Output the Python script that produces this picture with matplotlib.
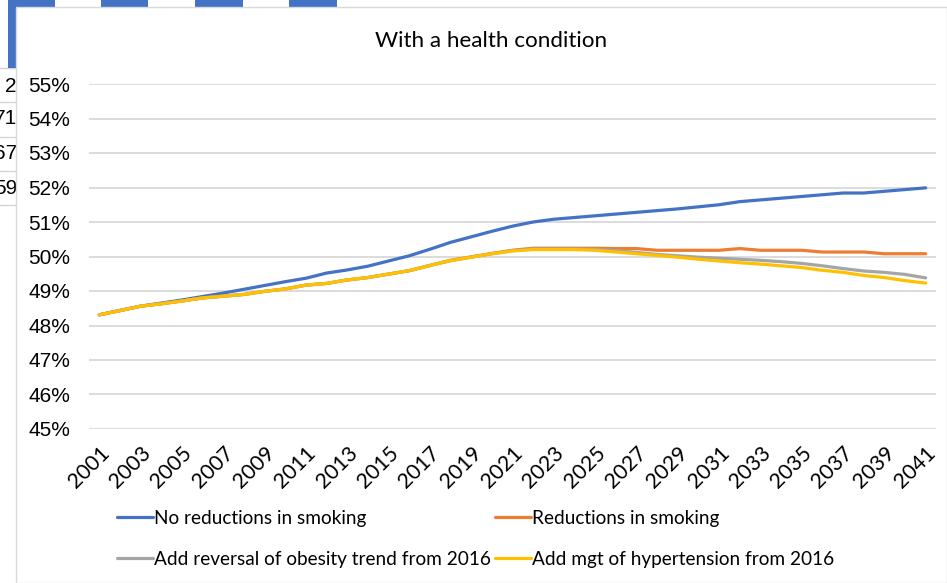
import matplotlib
matplotlib.use("Agg")
import matplotlib.pyplot as plt
from matplotlib.patches import Rectangle
from matplotlib.lines import Line2D
from matplotlib import font_manager

years = list(range(2001, 2042))

no_reductions = [48.31, 48.44, 48.56, 48.65, 48.74, 48.84, 48.94, 49.05, 49.16, 49.27,
                 49.37, 49.52, 49.61, 49.72, 49.87, 50.02, 50.21, 50.41, 50.57, 50.73,
                 50.88, 51.00, 51.08, 51.13, 51.18, 51.23, 51.28, 51.33, 51.38, 51.44,
                 51.50, 51.59, 51.64, 51.69, 51.74, 51.79, 51.84, 51.84, 51.89, 51.94, 51.99]

reductions = [48.31, 48.43, 48.56, 48.63, 48.71, 48.80, 48.85, 48.90, 48.99, 49.06,
              49.17, 49.22, 49.32, 49.39, 49.49, 49.59, 49.74, 49.89, 49.99, 50.09,
              50.18, 50.24, 50.24, 50.24, 50.24, 50.23, 50.23, 50.18, 50.18, 50.18,
              50.18, 50.23, 50.18, 50.18, 50.18, 50.13, 50.13, 50.13, 50.08, 50.08, 50.08]

obesity = [48.31, 48.43, 48.56, 48.63, 48.71, 48.80, 48.85, 48.90, 48.99, 49.06,
           49.17, 49.22, 49.32, 49.39, 49.49, 49.59, 49.74, 49.88, 49.98, 50.08,
           50.17, 50.22, 50.22, 50.22, 50.21, 50.17, 50.12, 50.06, 50.02, 49.98,
           49.95, 49.92, 49.89, 49.85, 49.80, 49.73, 49.65, 49.58, 49.54, 49.48, 49.38]

hypertension = [48.31, 48.43, 48.56, 48.63, 48.71, 48.80, 48.85, 48.90, 48.99, 49.06,
                49.17, 49.22, 49.32, 49.39, 49.49, 49.59, 49.74, 49.88, 49.98, 50.08,
                50.16, 50.20, 50.20, 50.20, 50.18, 50.13, 50.08, 50.03, 49.98, 49.92,
                49.87, 49.82, 49.78, 49.73, 49.68, 49.60, 49.54, 49.45, 49.39, 49.30, 49.23]

series_names = ["No reductions in smoking", "Reductions in smoking",
                "Add reversal of obesity trend from 2016", "Add mgt of hypertension from 2016"]
series_colors = ["#4472C4", "#ED7D31", "#A5A5A5", "#FFC000"]
y_ticks = [45, 46, 47, 48, 49, 50, 51, 52, 53, 54, 55]
x_tick_years = years[::2]
title = "With a health condition"
cell_texts = ["2", "71", "67", "59"]

available = {f.name for f in font_manager.fontManager.ttflist}
narrow = "Lato" if "Lato" in available else "DejaVu Sans"
arial = "Liberation Sans"

W, H = 947, 583
fig = plt.figure(figsize=(W / 100, H / 100), dpi=100)
fig.patch.set_facecolor("white")
renderer = fig.canvas.get_renderer()


def fx(x):
    return x / W


def fy(y):
    return 1 - y / H


def fit_size(s, family, target_px, base=14.0):
    t = fig.text(0, 0, s, family=family, fontsize=base)
    w = t.get_window_extent(renderer).width
    t.remove()
    return base * target_px / w


# background spreadsheet artifacts
for x0, x1 in [(8, 55), (101, 148), (195, 243), (289, 337)]:
    fig.patches.append(Rectangle((fx(x0), fy(7)), fx(x1) - fx(x0), fy(0) - fy(7),
                                 transform=fig.transFigure, facecolor="#4472C4",
                                 edgecolor="none", zorder=0))
fig.patches.append(Rectangle((fx(8), fy(68)), fx(16) - fx(8), fy(0) - fy(68),
                             transform=fig.transFigure, facecolor="#4472C4",
                             edgecolor="none", zorder=0))
for yy in [68, 102, 137, 171, 205]:
    fig.lines.append(Line2D([0, fx(16)], [fy(yy), fy(yy)], transform=fig.transFigure,
                            color="#D4D4D4", lw=1, zorder=0))
for yy, s in zip([86, 119, 154, 188], cell_texts):
    fig.text(fx(17), fy(yy), s, ha="right", va="center", fontsize=15,
             family=arial, color="black", zorder=0)

# chart area
fig.patches.append(Rectangle((fx(16), 0), 1 - fx(16), fy(7), transform=fig.transFigure,
                             facecolor="white", edgecolor="#D9D9D9", lw=1, zorder=1))

ax = fig.add_axes([fx(89), fy(429), fx(936) - fx(89), fy(84) - fy(429)], zorder=2)
ax.set_facecolor("none")

data = [no_reductions, reductions, obesity, hypertension]
lines = []
for vals, name, col in zip(data, series_names, series_colors):
    ln, = ax.plot(years, vals, color=col, lw=2.3, label=name, solid_capstyle="round")
    lines.append(ln)

xt_size = fit_size("2001", narrow, 35 * 1.414)
ax.set_xlim(2000.5, 2041.5)
ax.set_ylim(45, 55)
ax.set_yticks(y_ticks)
ax.set_yticklabels([f"{v}%" for v in y_ticks], family=arial, fontsize=15)
ax.set_xticks(x_tick_years)
ax.set_xticklabels([str(y) for y in x_tick_years], rotation=45, ha="right",
                   rotation_mode="anchor", family=narrow, fontsize=xt_size)
ax.tick_params(axis="y", length=0, pad=13.5)
ax.tick_params(axis="x", length=0, pad=10)
ax.grid(axis="y", color="#D9D9D9", lw=1.3)
ax.set_axisbelow(True)
for sp in ax.spines.values():
    sp.set_visible(False)

title_size = fit_size(title, narrow, 232)
fig.text(fx(491), fy(41), title, ha="center", va="center", fontsize=title_size,
         family=narrow, zorder=3)

leg_size = fit_size(series_names[0], narrow, 213)
fs_px = leg_size * 100 / 72
order = [0, 2, 1, 3]
leg = fig.legend([lines[i] for i in order], [series_names[i] for i in order],
                 ncol=2, loc="upper left", bbox_to_anchor=(fx(117), fy(510)),
                 frameon=False, prop={"family": narrow, "size": leg_size},
                 handlelength=36 / fs_px, handletextpad=0.05,
                 columnspacing=0.2, labelspacing=1.0 + 5 / fs_px,
                 borderaxespad=0, borderpad=0)
leg.set_zorder(3)

fig.savefig("out.png", dpi=100, facecolor="white")
